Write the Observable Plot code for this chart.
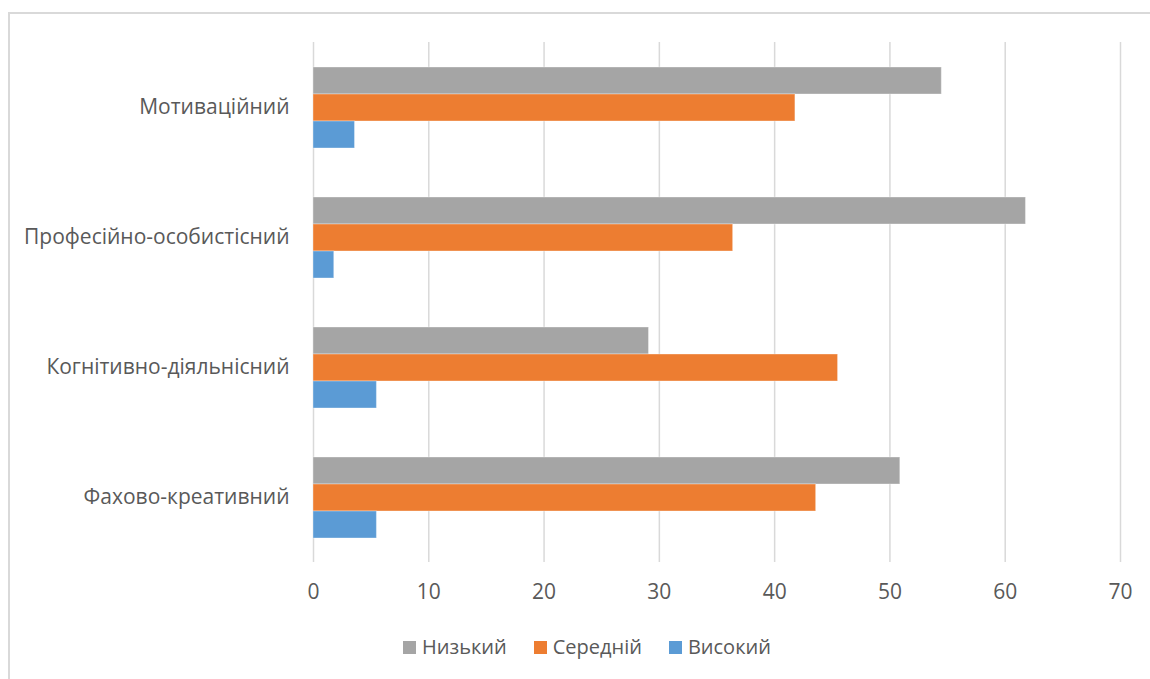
<!DOCTYPE html>
<html>
<head>
<meta charset="utf-8">
<script src="https://cdn.jsdelivr.net/npm/d3@7"></script>
<script src="https://cdn.jsdelivr.net/npm/@observablehq/plot@0.6"></script>
<style>
  html, body { margin: 0; padding: 0; background: #fff; width: 1150px; height: 679px; overflow: hidden; }
  #wrap { position: relative; width: 1150px; height: 679px; font-family: "Open Sans", "Noto Sans", sans-serif; color: #595959; }
  #frame { position: absolute; left: 8px; top: 12px; width: 1300px; height: 900px; border: 2px solid #d9d9d9; box-sizing: border-box; }
  #chart { position: absolute; left: 0; top: 0; }
  #legend { position: absolute; left: 403px; top: 634px; display: flex; align-items: center; font-size: 20px; line-height: 26px; }
  .item { display: flex; align-items: center; margin-right: 27px; }
  .sw { width: 13px; height: 13px; margin-right: 6px; }
</style>
</head>
<body>
<div id="wrap">
  <div id="frame"></div>
  <div id="chart"></div>
  <div id="legend"></div>
</div>
<script>
const categories = ["Мотиваційний", "Професійно-особистісний", "Когнітивно-діяльнісний", "Фахово-креативний"];
const series = ["Низький", "Середній", "Високий"];
const lowValues = [54.5, 61.8, 29.1, 50.9];
const midValues = [41.8, 36.4, 45.5, 43.6];
const highValues = [3.6, 1.8, 5.5, 5.5];
const seriesColors = ["#a5a5a5", "#ed7d31", "#5b9bd5"];
const xTicks = [0, 10, 20, 30, 40, 50, 60, 70];

const valuesBySeries = [lowValues, midValues, highValues];
const data = categories.flatMap((c, i) => series.map((s, j) => ({cat: c, s, v: valuesBySeries[j][i]})));

const chart = Plot.plot({
  width: 1150,
  height: 620,
  marginLeft: 313,
  marginRight: 30,
  marginTop: 42,
  marginBottom: 58,
  style: {fontFamily: "'Open Sans', 'Noto Sans', sans-serif", fontSize: "21px", color: "#595959", background: "transparent"},
  x: {domain: [0, 70], axis: null},
  fy: {domain: categories, padding: 0, axis: null},
  y: {domain: series, paddingInner: 0, paddingOuter: 0.88, axis: null},
  color: {domain: series, range: seriesColors},
  marks: [
    Plot.gridX(xTicks, {stroke: "#d9d9d9", strokeOpacity: 1, strokeWidth: 1.5}),
    Plot.barX(data, {x: "v", y: "s", fy: "cat", fill: "s", stroke: "white", strokeOpacity: 0.35, strokeWidth: 1}),
    Plot.axisX({ticks: xTicks, tickSize: 0, tickPadding: 22, label: null, fontSize: 21, fill: "#595959"}),
    Plot.axisFy({anchor: "left", tickSize: 0, tickPadding: 24, label: null, fontSize: 21, fill: "#595959"})
  ]
});
document.getElementById("chart").appendChild(chart);

const legend = document.getElementById("legend");
series.forEach((s, i) => {
  const item = document.createElement("div");
  item.className = "item";
  const sw = document.createElement("div");
  sw.className = "sw";
  sw.style.background = seriesColors[i];
  const label = document.createElement("span");
  label.textContent = s;
  item.appendChild(sw);
  item.appendChild(label);
  legend.appendChild(item);
});
</script>
</body>
</html>
